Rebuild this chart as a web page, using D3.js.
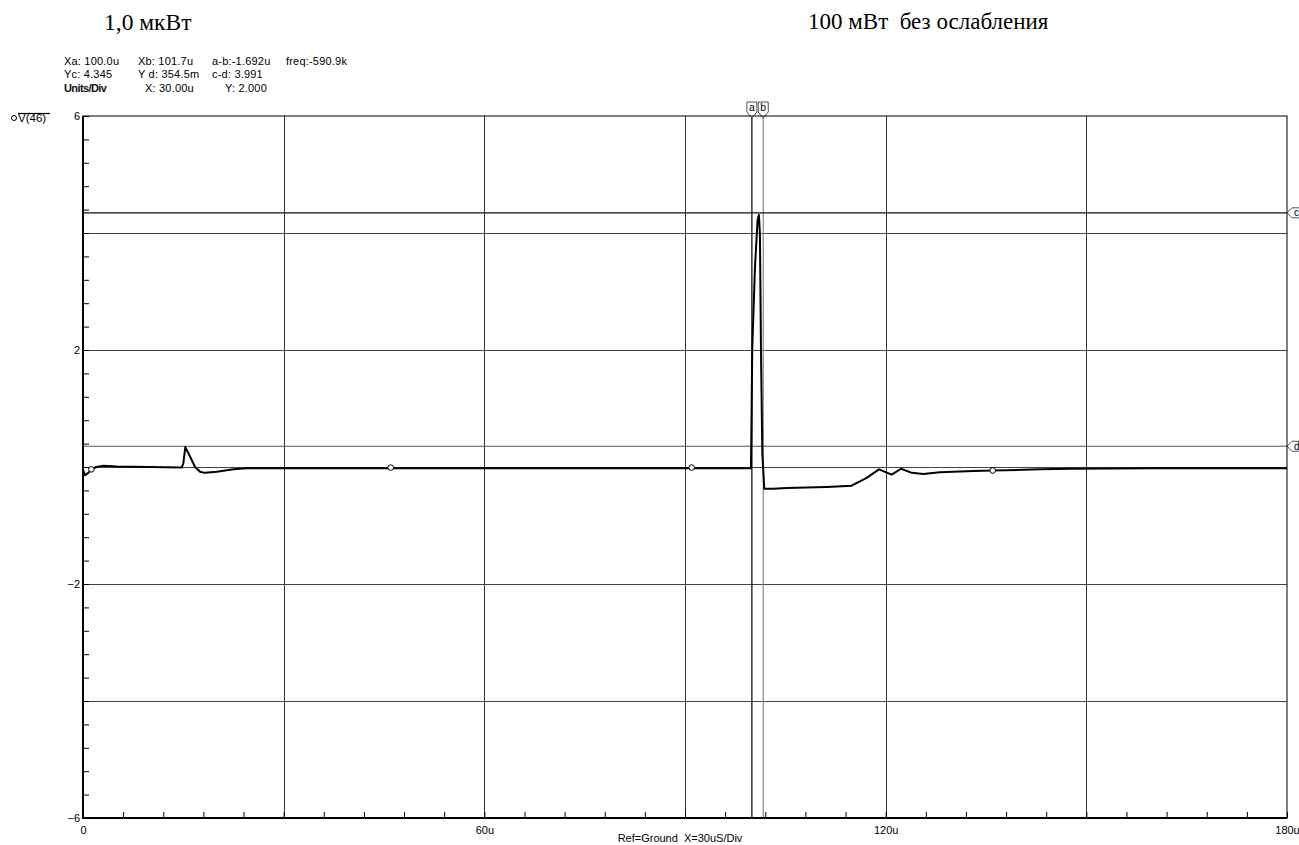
<!DOCTYPE html>
<html>
<head>
<meta charset="utf-8">
<script src="https://cdn.jsdelivr.net/npm/d3@7"></script>
<style>
  body { margin: 0; background: #fff; }
  svg { display: block; }
  .axis path { display: none; }
  .axis text { font-family: "Liberation Sans", Arial, sans-serif; font-size: 11px; fill: #000; }
</style>
</head>
<body>
<div class="graph"></div>
<script>
// trace V(46), time in microseconds
let timeUs = [0, 0.3, 0.8, 1.3, 2.0, 3.0, 5.0, 14.75, 15.0, 15.3, 16.0, 16.75, 17.5, 18.2, 20, 22.5, 24.5, 30, 60, 90,
  99.86, 99.96, 100.05, 100.46, 100.85, 101.05, 101.2, 101.36, 101.56, 101.85, 103.2, 105.2, 108.2, 111.2, 114.9,
  117.1, 119.0, 120.9, 122.3, 123.9, 125.6, 128.1, 133.1, 136, 143, 147.6, 160, 180];
let volts = [-0.05, -0.14, -0.1, -0.04, 0.0, 0.02, 0.01, -0.01, 0.06, 0.34, 0.18, 0.0, -0.08, -0.1, -0.08, -0.04, -0.02, -0.02, -0.02, -0.02,
  -0.02, 0.98, 2.0, 3.42, 4.22, 4.31, 3.99, 2.0, 0.23, -0.37, -0.37, -0.36, -0.35, -0.34, -0.32,
  -0.19, -0.04, -0.13, -0.03, -0.1, -0.12, -0.09, -0.07, -0.06, -0.04, -0.03, -0.02, -0.02];
let markerUs = [1.25, 46, 91, 136];
let markerV = [-0.04, -0.01, -0.01, -0.06];

let xLabels = [0, 60, 120, 180];
let yLabels = [6, 2, -2, -6];
let xGrid = [30, 60, 90, 120, 150];
let yGrid = [-4, -2, 0, 2, 4];

let cursorNames = ["a", "b"];
let cursorX = [100.0, 101.7];
let hCursorNames = ["c", "d"];
let hCursorY = [4.345, 0.3545];

let readout = [
  ["Xa: 100.0u", "Xb: 101.7u", "a-b:-1.692u", "freq:-590.9k"],
  ["Yc: 4.345", "Y d: 354.5m", "c-d: 3.991"]
];

let w = 1299;
let h = 845;
let pLeft = 83, pRight = 1287, pTop = 116, pBottom = 818;

let svgvar = d3.select(".graph").append("svg").attr("width", w).attr("height", h);

let xScale = d3.scaleLinear().domain([0, 180]).range([pLeft, pRight]);
let yScale = d3.scaleLinear().domain([-6, 6]).range([pBottom, pTop]);

// titles
let serif = "'Liberation Serif', 'Times New Roman', serif";
let sans = "'Liberation Sans', Arial, sans-serif";
svgvar.append("text").attr("x", 104).attr("y", 30).style("font-family", serif).style("font-size", "23.5px").text("1,0 мкВт");
svgvar.append("text").attr("x", 808).attr("y", 29).style("font-family", serif).style("font-size", "23px")
  .style("white-space", "pre").text("100 мВт  без ослабления");

// cursor readout
let colX = [64, 138, 212, 286];
readout.forEach(function (row, r) {
  row.forEach(function (s, c) {
    svgvar.append("text").attr("x", colX[c]).attr("y", 64.5 + r * 13.5)
      .style("font-family", sans).style("font-size", "11px").style("letter-spacing", "0.2px")
      .style("white-space", "pre").text(s);
  });
});
svgvar.append("text").attr("x", 64).attr("y", 92).style("font-family", sans).style("font-size", "11px")
  .style("letter-spacing", "-0.6px").style("font-weight", "bold").style("fill", "#111").text("Units/Div");
svgvar.append("text").attr("x", 145).attr("y", 92).style("font-family", sans).style("font-size", "11px")
  .style("letter-spacing", "0.2px").text("X: 30.00u");
svgvar.append("text").attr("x", 225).attr("y", 92).style("font-family", sans).style("font-size", "11px")
  .style("letter-spacing", "0.2px").text("Y: 2.000");

// legend
svgvar.append("circle").attr("cx", 14).attr("cy", 118).attr("r", 2.5).attr("fill", "#fff").attr("stroke", "#000");
svgvar.append("text").attr("x", 18).attr("y", 122).style("font-family", sans).style("font-size", "11.5px").text("V(46)");
svgvar.append("line").attr("x1", 18).attr("x2", 50).attr("y1", 113.5).attr("y2", 113.5).attr("stroke", "#000").attr("stroke-width", 1.2);

// grid
svgvar.append("g").selectAll("line").data(xGrid).enter().append("line")
  .attr("x1", d => Math.round(xScale(d)) + 0.5).attr("x2", d => Math.round(xScale(d)) + 0.5)
  .attr("y1", pTop).attr("y2", pBottom).attr("stroke", "#333").attr("stroke-width", 1);
svgvar.append("g").selectAll("line").data(yGrid).enter().append("line")
  .attr("y1", d => Math.round(yScale(d)) + 0.5).attr("y2", d => Math.round(yScale(d)) + 0.5)
  .attr("x1", pLeft).attr("x2", pRight).attr("stroke", "#444").attr("stroke-width", 1);

// cursors
svgvar.append("g").selectAll("line").data(cursorX).enter().append("line")
  .attr("x1", d => xScale(d)).attr("x2", d => xScale(d)).attr("y1", pTop).attr("y2", pBottom)
  .attr("stroke", (d, i) => i == 0 ? "#000" : "#888").attr("stroke-width", 1.2);
svgvar.append("g").selectAll("line").data(hCursorY).enter().append("line")
  .attr("y1", d => yScale(d)).attr("y2", d => yScale(d)).attr("x1", pLeft).attr("x2", pRight)
  .attr("stroke", (d, i) => i == 0 ? "#111" : "#555").attr("stroke-width", 1.2);

// cursor tags on top
cursorX.forEach(function (d, i) {
  let cx = xScale(d);
  svgvar.append("path")
    .attr("d", "M" + (cx - 5) + ",102 L" + (cx + 5) + ",102 L" + (cx + 5) + ",112 L" + cx + ",118 L" + (cx - 5) + ",112 Z")
    .attr("fill", "#fff").attr("stroke", "#555").attr("stroke-width", 1);
  svgvar.append("text").attr("x", cx).attr("y", 111).attr("text-anchor", "middle")
    .style("font-family", sans).style("font-size", "10.5px").text(cursorNames[i]);
});
hCursorY.forEach(function (d, i) {
  let cy = yScale(d);
  svgvar.append("path")
    .attr("d", "M" + pRight + "," + cy + " L" + (pRight + 5) + "," + (cy - 5) + " L" + (pRight + 16) + "," + (cy - 5) +
      " L" + (pRight + 16) + "," + (cy + 5) + " L" + (pRight + 5) + "," + (cy + 5) + " Z")
    .attr("fill", "#fff").attr("stroke", "#555").attr("stroke-width", 1);
  svgvar.append("text").attr("x", pRight + 7).attr("y", cy + 3.5)
    .style("font-family", sans).style("font-size", "10px").text(hCursorNames[i]);
});

// frame
svgvar.append("rect").attr("x", pLeft).attr("y", pTop).attr("width", pRight - pLeft).attr("height", pBottom - pTop)
  .attr("fill", "none").attr("stroke", "#000").attr("stroke-width", 1);
svgvar.append("line").attr("x1", pLeft).attr("x2", pLeft).attr("y1", pTop).attr("y2", pBottom + 1).attr("stroke", "#000").attr("stroke-width", 2);
svgvar.append("line").attr("x1", pLeft - 1).attr("x2", pRight).attr("y1", pBottom).attr("y2", pBottom).attr("stroke", "#000").attr("stroke-width", 2);

// minor ticks
let xMinor = d3.range(0, 181, 6);
let yMinor = d3.range(-15, 16).map(k => k * 0.4);
let xMinorAxis = d3.axisTop(xScale).tickValues(xMinor).tickSize(6).tickFormat("");
svgvar.append("g").attr("class", "axis").attr("transform", "translate(0," + pBottom + ")").call(xMinorAxis)
  .selectAll("line").attr("stroke", "#000");
let yMinorAxis = d3.axisRight(yScale).tickValues(yMinor).tickSize(6).tickFormat("");
svgvar.append("g").attr("class", "axis").attr("transform", "translate(" + pLeft + ",0)").call(yMinorAxis)
  .selectAll("line").attr("stroke", "#000");

// labels
let xAxis = d3.axisBottom(xScale).tickValues(xLabels).tickSize(0).tickPadding(8)
  .tickFormat(d => d == 0 ? "0" : d + "u");
svgvar.append("g").attr("class", "axis").attr("transform", "translate(0," + pBottom + ")").call(xAxis);
let yAxis = d3.axisLeft(yScale).tickValues(yLabels).tickSize(0).tickPadding(3).tickFormat(d3.format("d"));
svgvar.append("g").attr("class", "axis").attr("transform", "translate(" + pLeft + ",0)").call(yAxis)
  .selectAll("text").attr("dy", "0.3em");

svgvar.append("text").attr("x", 680).attr("y", 842).attr("text-anchor", "middle")
  .style("font-family", sans).style("font-size", "11px").style("white-space", "pre").text("Ref=Ground  X=30uS/Div");

// trace
let line = d3.line().x((d, i) => xScale(timeUs[i])).y((d, i) => yScale(volts[i]));
svgvar.append("path").datum(volts).attr("d", line).attr("fill", "none").attr("stroke", "#000")
  .attr("stroke-width", 2).attr("stroke-linejoin", "round");

svgvar.selectAll("circle.dot").data(markerUs).enter().append("circle").attr("class", "dot")
  .attr("cx", d => xScale(d)).attr("cy", (d, i) => yScale(markerV[i])).attr("r", 2.8)
  .attr("fill", "#fff").attr("stroke", "#000").attr("stroke-width", 1);
</script>
</body>
</html>
